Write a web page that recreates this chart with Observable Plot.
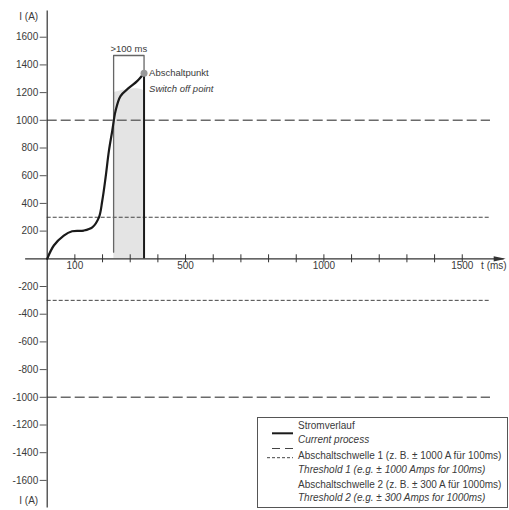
<!DOCTYPE html>
<html><head><meta charset="utf-8">
<script src="https://cdn.jsdelivr.net/npm/d3@7"></script>
<script src="https://cdn.jsdelivr.net/npm/@observablehq/plot@0.6"></script>
<style>
html,body{margin:0;padding:0;background:#fff;}
#wrap{position:relative;width:509px;height:510px;font-family:"Liberation Sans",Arial,sans-serif;}
#legend{position:absolute;left:257px;top:417px;}
</style></head><body><div id="wrap"></div>
<script>
// Current process (time in ms, current in A)
const timeMs  = [0, 24, 60, 90, 132, 163, 187, 199, 211, 223, 235, 247, 265, 295, 325, 350];
const current = [0, 96, 168, 199, 204, 227, 299, 419, 587, 779, 923, 1067, 1175, 1234, 1283, 1340];
// Shaded region under switch-off window
const shadeT = [241, 260, 290, 320, 340, 350];
const shadeI = [1200, 1210, 1222, 1228, 1222, 1212];
// Thresholds
const threshold1 = [1000, -1000];
const threshold2 = [300, -300];
const thresholdEnd = 1602;
// Switch-off point and window
const switchOff = {t: 350, i: 1340};
const windowStart = 240;
const bracketTop = 1468;
const windowLow = 48;
// Axes
const xTicks = [100, 200, 300, 400, 500, 600, 700, 800, 900, 1000, 1100, 1200, 1300, 1400, 1500];
const xLabels = [100, 500, 1000, 1500];
const yTicks = [-1600, -1400, -1200, -1000, -800, -600, -400, -200, 200, 400, 600, 800, 1000, 1200, 1400, 1600];
const xAxisStart = -78, xAxisEnd = 1657, xUnitPos = 1568;

const curveData = timeMs.map((t, k) => ({t, i: current[k]}));
const shadeData = shadeT.map((t, k) => ({t, i: shadeI[k]}));
const bracket = [
  {t: windowStart, i: windowLow}, {t: windowStart, i: bracketTop},
  {t: switchOff.t, i: bracketTop}, {t: switchOff.t, i: switchOff.i}
];
const arrowHead = {draw(ctx) { ctx.moveTo(0, 0); ctx.lineTo(-12, -2.6); ctx.lineTo(-12, 2.6); ctx.closePath(); }};
const FONT = '"Liberation Sans",Arial,sans-serif';
const txt = "#3a3a3a";

const chart = Plot.plot({
  width: 509, height: 510,
  marginLeft: 46.7, marginRight: 3.8, marginTop: 10.4, marginBottom: 2.4,
  x: {domain: [0, xAxisEnd], axis: null},
  y: {domain: [-1800, 1790], axis: null},
  style: {fontFamily: FONT, fontSize: "10px", color: txt, background: "white", overflow: "visible"},
  marks: [
    Plot.areaY(shadeData, {x: "t", y: "i", fill: "#e4e4e4", curve: "natural"}),
    Plot.ruleY(threshold1, {x1: 0, x2: thresholdEnd, stroke: "#6a6a6a", strokeWidth: 1.5, strokeDasharray: "10,4"}),
    Plot.ruleY(threshold2, {x1: 0, x2: thresholdEnd, stroke: "#444", strokeWidth: 1, strokeDasharray: "4,2"}),
    Plot.ruleY([0], {x1: xAxisStart, x2: xAxisEnd - 6, stroke: "#333", strokeWidth: 1.2}),
    Plot.dot([0], {x: xAxisEnd, y: 0, symbol: arrowHead, fill: "#333", stroke: "none"}),
    Plot.ruleX([0], {stroke: "#333", strokeWidth: 1.2}),
    Plot.ruleX(xTicks, {x: d => d, y1: 0, y2: 0, insetTop: -4, insetBottom: -4, stroke: "#333"}),
    Plot.text(xLabels, {x: d => d, y: 0, dy: 7, text: d => String(d), fill: txt, fontSize: 10}),
    Plot.text(["t (ms)"], {x: xUnitPos, y: 0, dy: 7, textAnchor: "start", fill: txt, fontSize: 10}),
    Plot.axisY(yTicks, {anchor: "left", tickSize: 7, tickPadding: 2, tickFormat: d => String(d), stroke: "#555", fill: txt, fontSize: 10, label: null}),
    Plot.text([1750, -1750], {x: 0, y: d => d, dx: -9, textAnchor: "end", text: () => "I (A)", fill: txt, fontSize: 10}),
    Plot.line(bracket, {x: "t", y: "i", stroke: "#666", strokeWidth: 1.3}),
    Plot.ruleX([switchOff], {x: "t", y1: 0, y2: "i", stroke: "#1a1a1a", strokeWidth: 2}),
    Plot.line(curveData, {x: "t", y: "i", stroke: "#1a1a1a", strokeWidth: 2.2, curve: "catmull-rom"}),
    Plot.dot([switchOff], {x: "t", y: "i", r: 3.5, fill: "#999", stroke: "none"}),
    Plot.text([">100 ms"], {x: (windowStart + switchOff.t) / 2, y: bracketTop, dy: -7, fill: txt, fontSize: 9.5}),
    Plot.text(["Abschaltpunkt"], {x: switchOff.t, y: switchOff.i, dx: 5, dy: 0, textAnchor: "start", fill: txt, fontSize: 9.5}),
    Plot.text(["Switch off point"], {x: switchOff.t, y: switchOff.i, dx: 5, dy: 16, textAnchor: "start", fill: txt, fontSize: 9.5, fontStyle: "italic"})
  ]
});
const wrap = document.getElementById("wrap");
wrap.appendChild(chart);

// Legend
const legendItems = [
  {text: "Stromverlauf", italic: false, y: 8.5},
  {text: "Current process", italic: true, y: 22},
  {text: "Abschaltschwelle 1 (z. B. ± 1000 A für 100ms)", italic: false, y: 38},
  {text: "Threshold 1 (e.g. ± 1000 Amps for 100ms)", italic: true, y: 52.5},
  {text: "Abschaltschwelle 2 (z. B. ± 300 A für 1000ms)", italic: false, y: 67},
  {text: "Threshold 2 (e.g. ± 300 Amps for 1000ms)", italic: true, y: 80.5}
];
const lg = d3.select(wrap).append("svg").attr("id", "legend").attr("width", 251).attr("height", 91);
lg.append("rect").attr("x", 0.5).attr("y", 0.5).attr("width", 250).attr("height", 90).attr("fill", "white").attr("stroke", "#555");
lg.append("line").attr("x1", 15).attr("x2", 36).attr("y1", 16.3).attr("y2", 16.3).attr("stroke", "#1a1a1a").attr("stroke-width", 2);
lg.append("line").attr("x1", 15).attr("x2", 36).attr("y1", 31.5).attr("y2", 31.5).attr("stroke", "#444").attr("stroke-width", 1.2).attr("stroke-dasharray", "8,5");
lg.append("line").attr("x1", 10).attr("x2", 36).attr("y1", 40.7).attr("y2", 40.7).attr("stroke", "#444").attr("stroke-width", 1).attr("stroke-dasharray", "3,2");
lg.selectAll("text.item").data(legendItems).join("text")
  .attr("x", 41).attr("y", d => d.y).attr("dominant-baseline", "central")
  .attr("font-family", FONT).attr("font-size", 10).attr("fill", txt)
  .attr("font-style", d => d.italic ? "italic" : "normal").text(d => d.text);
</script></body></html>
